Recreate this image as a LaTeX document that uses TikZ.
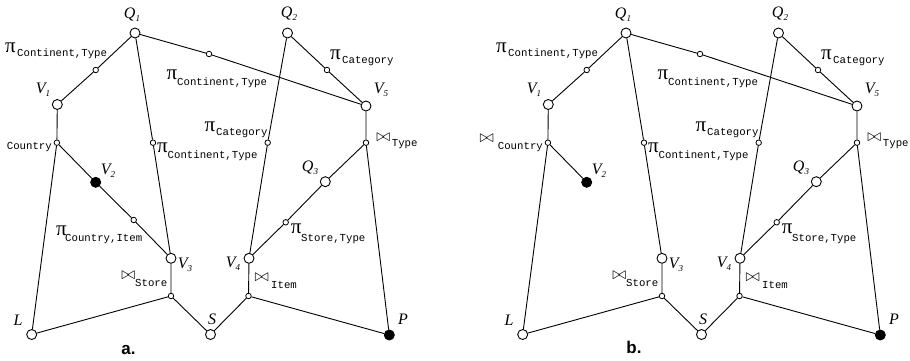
\documentclass[tikz,border=0pt]{standalone}
\usepackage{fontspec}
\setmainfont{Liberation Serif}
\setmonofont{Liberation Mono}
\newfontfamily\lsans{Liberation Sans}
\tikzset{
 big/.style={circle, draw, fill=white, minimum size=10pt, inner sep=0pt, line width=0.9pt},
 bigf/.style={big, fill=black},
 sm/.style={circle, draw, fill=white, minimum size=5.5pt, inner sep=0pt, line width=0.8pt},
 edge/.style={line width=0.9pt},
 vl/.style={inner sep=0pt, font=\fontsize{16}{16}\selectfont\itshape},
 pil/.style={inner sep=0pt, font=\fontsize{21}{21}\selectfont},
 tl/.style={inner sep=0pt, anchor=base west, font=\ttfamily\fontsize{10.7}{12}\selectfont},
 bw/.style={inner sep=0pt, font=\fontsize{17.5}{17.5}\selectfont},
 captxt/.style={inner sep=0pt, font=\lsans\bfseries\fontsize{17}{17}\selectfont}
}
\newcommand\vsub[2]{#1\raisebox{-3pt}{\fontsize{9}{9}\selectfont #2}}
\newcommand\commonpart{%
 \node[big] (Q1) at (135,33) {};
 \node[big] (Q2) at (287.5,33) {};
 \node[big] (V1) at (57.3,104.5) {};
 \node[big] (V5) at (366,106) {};
 \node[bigf] (V2) at (95.7,182.3) {};
 \node[big] (Q3) at (325.3,181.7) {};
 \node[big] (V3) at (171,258.3) {};
 \node[big] (V4) at (249,258.3) {};
 \node[big] (L) at (31.7,334.5) {};
 \node[big] (S) at (210.5,334.5) {};
 \node[bigf] (P) at (389.3,335) {};
 \node[sm] (a1) at (95.7,70) {};
 \node[sm] (a2) at (209,54) {};
 \node[sm] (a3) at (327,70) {};
 \node[sm] (cty) at (56.9,142.7) {};
 \node[sm] (a4) at (153,142.7) {};
 \node[sm] (a5) at (267.7,142.7) {};
 \node[sm] (typ) at (366,142.7) {};
 \node[sm] (a7) at (285.7,222.3) {};
 \node[sm] (sto) at (171,296) {};
 \node[sm] (itm) at (248.5,296) {};
 \draw[edge] (Q1) -- (a1) -- (V1);
 \draw[edge] (Q1) -- (a2) -- (V5);
 \draw[edge] (Q1) -- (a4) -- (V3);
 \draw[edge] (Q2) -- (a3) -- (V5);
 \draw[edge] (Q2) -- (a5) -- (V4);
 \draw[edge] (V1) -- (cty) -- (L);
 \draw[edge] (cty) -- (V2);
 \draw[edge] (V3) -- (sto) -- (L);
 \draw[edge] (sto) -- (S);
 \draw[edge] (S) -- (itm) -- (V4);
 \draw[edge] (itm) -- (P);
 \draw[edge] (V4) -- (a7) -- (Q3) -- (typ) -- (V5);
 \draw[edge] (typ) -- (P);
 \node[vl] (lQ1) at (132,15) {\vsub{Q}{1}};
 \node[vl] (lQ2) at (289,14) {\vsub{Q}{2}};
 \node[vl] (lQ3) at (310,168) {\vsub{Q}{3}};
 \node[vl] (lV1) at (43,90) {\vsub{V}{1}};
 \node[vl] (lV2) at (108,171) {\vsub{V}{2}};
 \node[vl] (lV3) at (185,265) {\vsub{V}{3}};
 \node[vl] (lV4) at (233,264) {\vsub{V}{4}};
 \node[vl] (lV5) at (381,90) {\vsub{V}{5}};
 \node[vl] (lL) at (18,320) {L};
 \node[vl] (lS) at (212,319) {S};
 \node[vl] (lP) at (403,319) {P};
 \node[pil] (p1) at (10.5,47.5) {π};
 \node[tl] (t1) at (17,56.7) {Continent,Type};
 \node[pil] (p2) at (172,75) {π};
 \node[tl] (t2) at (177,85) {Continent,Type};
 \node[pil] (p3) at (335.5,55) {π};
 \node[tl] (t3) at (342,63.3) {Category};
 \node[pil] (p4) at (210,127) {π};
 \node[tl] (t4) at (216,135) {Category};
 \node[pil] (p5) at (162.5,148) {π};
 \node[tl] (t5) at (167.5,158) {Continent,Type};
 \node[pil] (p8) at (296.2,229) {π};
 \node[tl] (t8) at (301,241) {Store,Type};
 \node[bw] (b7) at (383.3,137.5) {$\bowtie$};
 \node[tl] (t7) at (391.7,146.5) {Type};
 \node[bw] (b10) at (128.3,275) {$\bowtie$};
 \node[tl] (t10) at (135,286) {Store};
 \node[bw] (b11) at (261.7,277.7) {$\bowtie$};
 \node[tl] (t11) at (271,288.7) {Item};
 \node[tl] (tc) at (6.7,149.5) {Country};
}
\begin{document}
\begin{tikzpicture}[x=1pt,y=-1pt]
\useasboundingbox (0,0) rectangle (910,361);
\begin{scope}[name prefix=a-]
 \commonpart
 \node[sm] (a6) at (133.7,220) {};
 \draw[edge] (V2) -- (a6) -- (V3);
 \node[pil] (p9) at (61.5,231) {π};
 \node[tl] (t9) at (65,241) {Country,Item};
 \node[captxt] (lab) at (128.5,350) {a.};
\end{scope}
\begin{scope}[shift={(491,0)}, name prefix=b-]
 \commonpart
 \node[bw] (bc) at (-4.3,138.3) {$\bowtie$};
 \node[captxt] (lab) at (143,347) {b.};
\end{scope}
\end{tikzpicture}
\end{document}
